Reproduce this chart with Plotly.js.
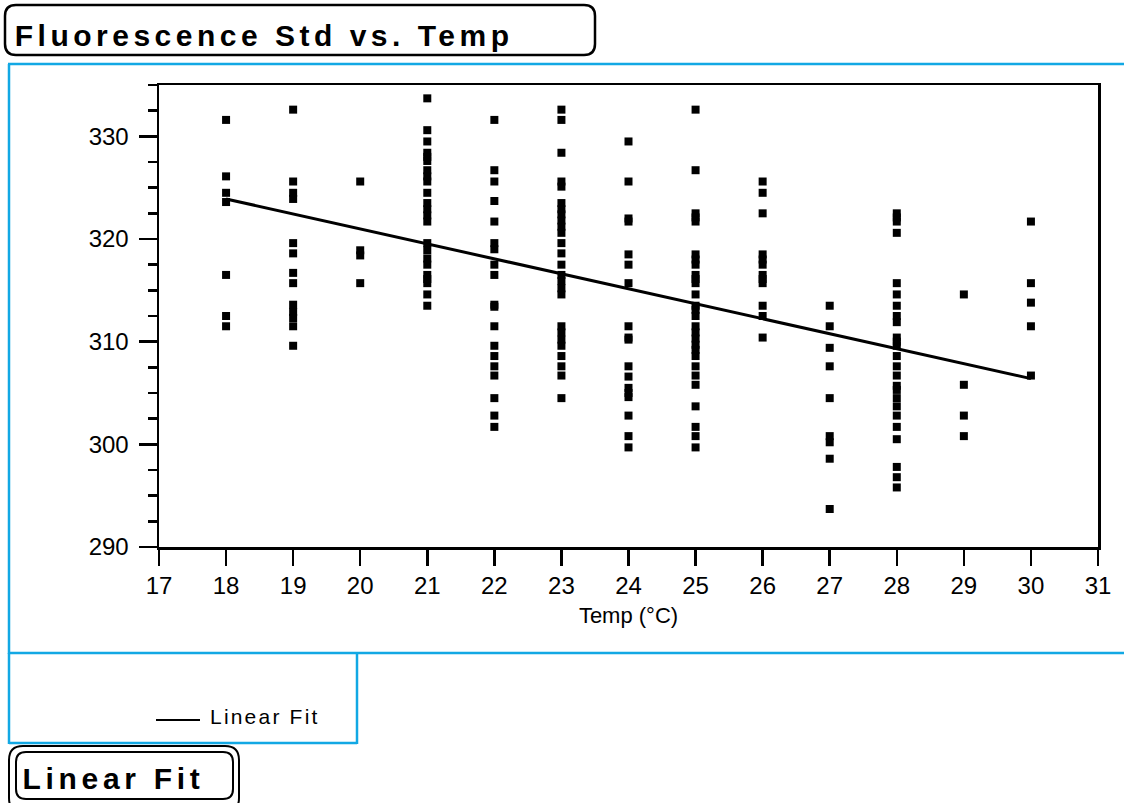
<!DOCTYPE html>
<html>
<head>
<meta charset="utf-8">
<script src="https://cdn.plot.ly/plotly-3.0.1.min.js"></script>
<style>
  html, body { margin: 0; padding: 0; background: #fff; }
  #chart { width: 1124px; height: 803px; }
  .annotation[data-index="0"] text { letter-spacing: 4.5px; }
  .annotation[data-index="1"] text { letter-spacing: 4.7px; }
  .annotation[data-index="2"] text { letter-spacing: 2.2px; }
</style>
</head>
<body>
<div id="chart"></div>
<script>
// ---- Data ----
const temps = [18, 19, 20, 21, 22, 23, 24, 25, 26, 27, 28, 29, 30];
const std18 = [331.6, 326.1, 324.5, 323.6, 316.5, 312.5, 311.5];
const std19 = [332.6, 325.6, 324.5, 323.9, 319.6, 318.6, 316.7, 315.7, 313.6, 312.9, 312.3, 311.5, 309.6];
const std20 = [325.6, 318.9, 318.4, 315.7];
const std21 = [333.7, 330.6, 329.5, 328.4, 328.0, 327.6, 326.7, 326.1, 325.6, 324.5, 323.5, 322.9, 322.3, 321.7,
               319.6, 318.9, 318.1, 317.5, 316.5, 316.1, 315.7, 314.6, 313.5];
const std22 = [331.6, 326.7, 325.6, 323.7, 321.7, 319.6, 319.0, 317.5, 316.5, 313.6, 313.4, 311.5, 309.6, 308.6,
               307.6, 306.7, 304.5, 302.8, 301.7];
const std23 = [332.6, 331.6, 328.4, 325.6, 325.1, 323.5, 322.9, 322.4, 321.8, 321.2, 320.6, 319.6, 318.6, 317.5,
               316.5, 315.9, 315.2, 314.6, 311.5, 310.9, 310.2, 309.6, 308.6, 307.6, 306.7, 304.5];
const std24 = [329.5, 325.6, 322.0, 321.7, 318.5, 317.5, 315.7, 311.5, 310.4, 310.2, 307.6, 306.6, 305.5, 305.0,
               304.6, 302.8, 300.8, 299.7];
const std25 = [332.6, 326.7, 322.5, 322.1, 321.7, 318.5, 318.0, 317.5, 316.5, 316.1, 315.7, 314.6, 313.5, 313.1,
               312.5, 311.5, 310.9, 310.3, 309.7, 309.2, 308.6, 307.6, 306.7, 305.8, 303.7, 301.7, 300.8, 299.7];
const std26 = [325.6, 324.5, 322.5, 318.5, 318.0, 317.5, 316.5, 316.1, 315.7, 313.5, 312.5, 310.4];
const std27 = [313.5, 311.5, 309.4, 307.6, 304.5, 300.8, 300.2, 298.6, 293.7];
const std28 = [322.5, 322.1, 321.7, 320.6, 315.7, 314.6, 313.5, 312.5, 311.9, 310.4, 310.0, 309.6, 308.6, 307.6,
               306.7, 305.7, 305.3, 304.5, 303.7, 302.8, 301.7, 300.5, 297.8, 296.8, 295.8];
const std29 = [314.6, 305.8, 302.8, 300.8];
const std30 = [321.7, 315.7, 313.8, 311.5, 306.7];
const stdByTemp = [std18, std19, std20, std21, std22, std23, std24, std25, std26, std27, std28, std29, std30];

// Linear fit end points
const fitTemp = [18, 30];
const fitStd = [323.9, 306.4];

const xTicks = [17, 18, 19, 20, 21, 22, 23, 24, 25, 26, 27, 28, 29, 30, 31];
const yTicks = [290, 300, 310, 320, 330];

// ---- Build scatter arrays ----
const xs = [], ys = [];
temps.forEach((t, i) => stdByTemp[i].forEach(v => { xs.push(t); ys.push(v); }));

// ---- Pixel helpers for decorations (plot area: x 159..1098, y 85..547) ----
const L = 159, R = 1098, T = 85, B = 547;
const px = p => (p - L) / (R - L);
const py = p => (B - p) / (B - T);

function rrect(x0, y0, x1, y1, r) {
  return `M${px(x0 + r)},${py(y0)} L${px(x1 - r)},${py(y0)} Q${px(x1)},${py(y0)} ${px(x1)},${py(y0 + r)} ` +
         `L${px(x1)},${py(y1 - r)} Q${px(x1)},${py(y1)} ${px(x1 - r)},${py(y1)} ` +
         `L${px(x0 + r)},${py(y1)} Q${px(x0)},${py(y1)} ${px(x0)},${py(y1 - r)} ` +
         `L${px(x0)},${py(y0 + r)} Q${px(x0)},${py(y0)} ${px(x0 + r)},${py(y0)} Z`;
}
function seg(x0, y0, x1, y1, color, w) {
  return { type: 'line', xref: 'paper', yref: 'paper', x0: px(x0), y0: py(y0), x1: px(x1), y1: py(y1),
           line: { color: color, width: w }, layer: 'above' };
}

const BLUE = '#12a8e4';
const FONT = 'Liberation Sans, Arial, sans-serif';

const traces = [
  { type: 'scatter', mode: 'markers', x: xs, y: ys, showlegend: false,
    marker: { symbol: 'square', size: 8, color: '#000' }, cliponaxis: false, hoverinfo: 'x+y' },
  { type: 'scatter', mode: 'lines', x: fitTemp, y: fitStd, name: 'Linear Fit', showlegend: false,
    line: { color: '#000', width: 3 } }
];

const shapes = [
  { type: 'path', xref: 'paper', yref: 'paper', path: rrect(5, 5, 595, 55, 11), line: { color: '#000', width: 2.5 }, layer: 'above' },
  seg(8, 64, 1124, 64, BLUE, 2.5),
  seg(9, 64, 9, 654, BLUE, 2.5),
  seg(8, 653, 1124, 653, BLUE, 2.5),
  seg(9, 653, 9, 744, BLUE, 2.5),
  seg(9, 743, 357, 743, BLUE, 2.5),
  seg(357, 653, 357, 744, BLUE, 2.5),
  seg(156, 720, 200, 720, '#000', 2),
  { type: 'path', xref: 'paper', yref: 'paper', path: rrect(9, 746, 239, 812, 14), line: { color: '#000', width: 2 }, layer: 'above' },
  { type: 'path', xref: 'paper', yref: 'paper', path: rrect(16, 752, 233, 799, 10), line: { color: '#000', width: 2 }, layer: 'above' }
];

// letter-spacing (CSS above) widens texts about their centre, so the anchors are shifted by half the extra width
const annotations = [
  { xref: 'paper', yref: 'paper', x: px(11 + 58), y: py(35), xanchor: 'left', yanchor: 'middle', showarrow: false,
    text: '<b>Fluorescence Std vs. Temp</b>', font: { family: FONT, size: 30, color: '#000' } },
  { xref: 'paper', yref: 'paper', x: px(20 + 23.5), y: py(778), xanchor: 'left', yanchor: 'middle', showarrow: false,
    text: '<b>Linear Fit</b>', font: { family: FONT, size: 30, color: '#000' } },
  { xref: 'paper', yref: 'paper', x: px(208 + 11), y: py(716), xanchor: 'left', yanchor: 'middle', showarrow: false,
    text: 'Linear Fit', font: { family: FONT, size: 21, color: '#000' } }
];

const layout = {
  width: 1124, height: 803,
  margin: { l: L, r: 1124 - R, t: T, b: 803 - B, pad: 0 },
  paper_bgcolor: '#fff', plot_bgcolor: '#fff',
  font: { family: FONT, color: '#000' },
  showlegend: false,
  xaxis: {
    range: [17, 31], tickmode: 'array', tickvals: xTicks, ticktext: xTicks.map(String),
    ticks: 'outside', ticklen: 16, tickwidth: 2.5, tickcolor: '#000',
    showline: true, linewidth: 2.5, linecolor: '#000', mirror: true,
    showgrid: false, zeroline: false, tickfont: { family: FONT, size: 24 },
    ticklabelstandoff: 0,
    title: { text: 'Temp (°C)', font: { family: FONT, size: 22 }, standoff: 10 }
  },
  yaxis: {
    range: [290, 335], tickmode: 'array', tickvals: yTicks, ticktext: yTicks.map(String),
    ticks: 'outside', ticklen: 18, tickwidth: 2.5, tickcolor: '#000',
    minor: { dtick: 2.5, tick0: 290, ticks: 'outside', ticklen: 9, tickwidth: 2.5, tickcolor: '#000', showgrid: false },
    showline: true, linewidth: 2.5, linecolor: '#000', mirror: true,
    showgrid: false, zeroline: false, tickfont: { family: FONT, size: 24 },
    ticklabelstandoff: 5
  },
  shapes: shapes,
  annotations: annotations
};

Plotly.newPlot('chart', traces, layout, { displayModeBar: false, staticPlot: true });
</script>
</body>
</html>
